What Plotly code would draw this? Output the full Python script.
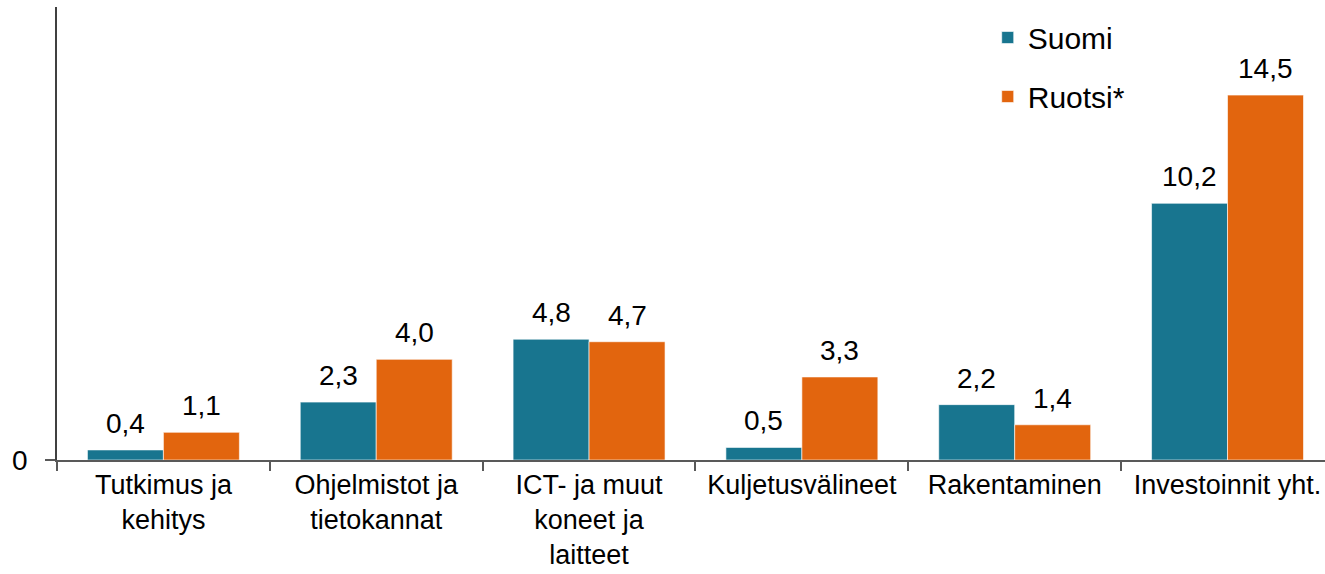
import plotly.graph_objects as go

categories = ["Tutkimus ja<br>kehitys", "Ohjelmistot ja<br>tietokannat", "ICT- ja muut<br>koneet ja<br>laitteet",
              "Kuljetusvälineet", "Rakentaminen", "Investoinnit yht."]
suomi = [0.4, 2.3, 4.8, 0.5, 2.2, 10.2]
ruotsi = [1.1, 4.0, 4.7, 3.3, 1.4, 14.5]
series_names = ["Suomi", "Ruotsi*"]
colors = ["#18758f", "#e2650e"]

FONT = "Liberation Sans, Arial, sans-serif"

def fmt(v):
    return f"{v:.1f}".replace(".", ",")

fig = go.Figure()
for name, vals, col in zip(series_names, [suomi, ruotsi], colors):
    fig.add_trace(go.Bar(
        x=categories, y=vals, name=name, marker_color=col,
        marker_line=dict(color="rgba(255,255,255,0.6)", width=1),
        legendgroup=name,
    ))

# value labels above bars
for vals, shift in [(suomi, -38), (ruotsi, 38)]:
    for c, v in zip(categories, vals):
        fig.add_annotation(x=c, y=v, text=fmt(v), showarrow=False, xshift=shift,
                           yanchor="bottom", yshift=9,
                           font=dict(family=FONT, size=28, color="#000000"))

fig.update_layout(
    width=1325, height=574,
    margin=dict(l=57, r=0, t=7, b=114, autoexpand=False),
    paper_bgcolor="white", plot_bgcolor="white",
    barmode="group", bargap=0.286, bargroupgap=0,
    font=dict(family=FONT, size=28, color="#000000"),
    legend=dict(x=0.734, y=0.99, xanchor="left", yanchor="top",
                font=dict(family=FONT, size=30, color="#000000"),
                traceorder="grouped", tracegroupgap=17, bgcolor="rgba(0,0,0,0)"),
    xaxis=dict(range=[-0.5, 5.458], showline=True, linecolor="#595959", linewidth=1.5,
               ticks="outside", tickson="boundaries", ticklen=9, tickcolor="#595959",
               tickwidth=1.5, showgrid=False, automargin=False, ticklabelstandoff=0,
               tickfont=dict(family=FONT, size=27)),
    yaxis=dict(range=[0, 18], showline=True, linecolor="#404040", linewidth=1.5,
               tickvals=[0], ticktext=["0"], ticks="outside", ticklen=10,
               tickcolor="#595959", tickwidth=1.5, showgrid=False, zeroline=False,
               automargin=False, ticklabelstandoff=12,
               tickfont=dict(family=FONT, size=28)),
)

fig.write_html("out.html", config={"displayModeBar": False},
               post_script="document.body.style.margin='0';document.body.style.overflow='hidden';")
